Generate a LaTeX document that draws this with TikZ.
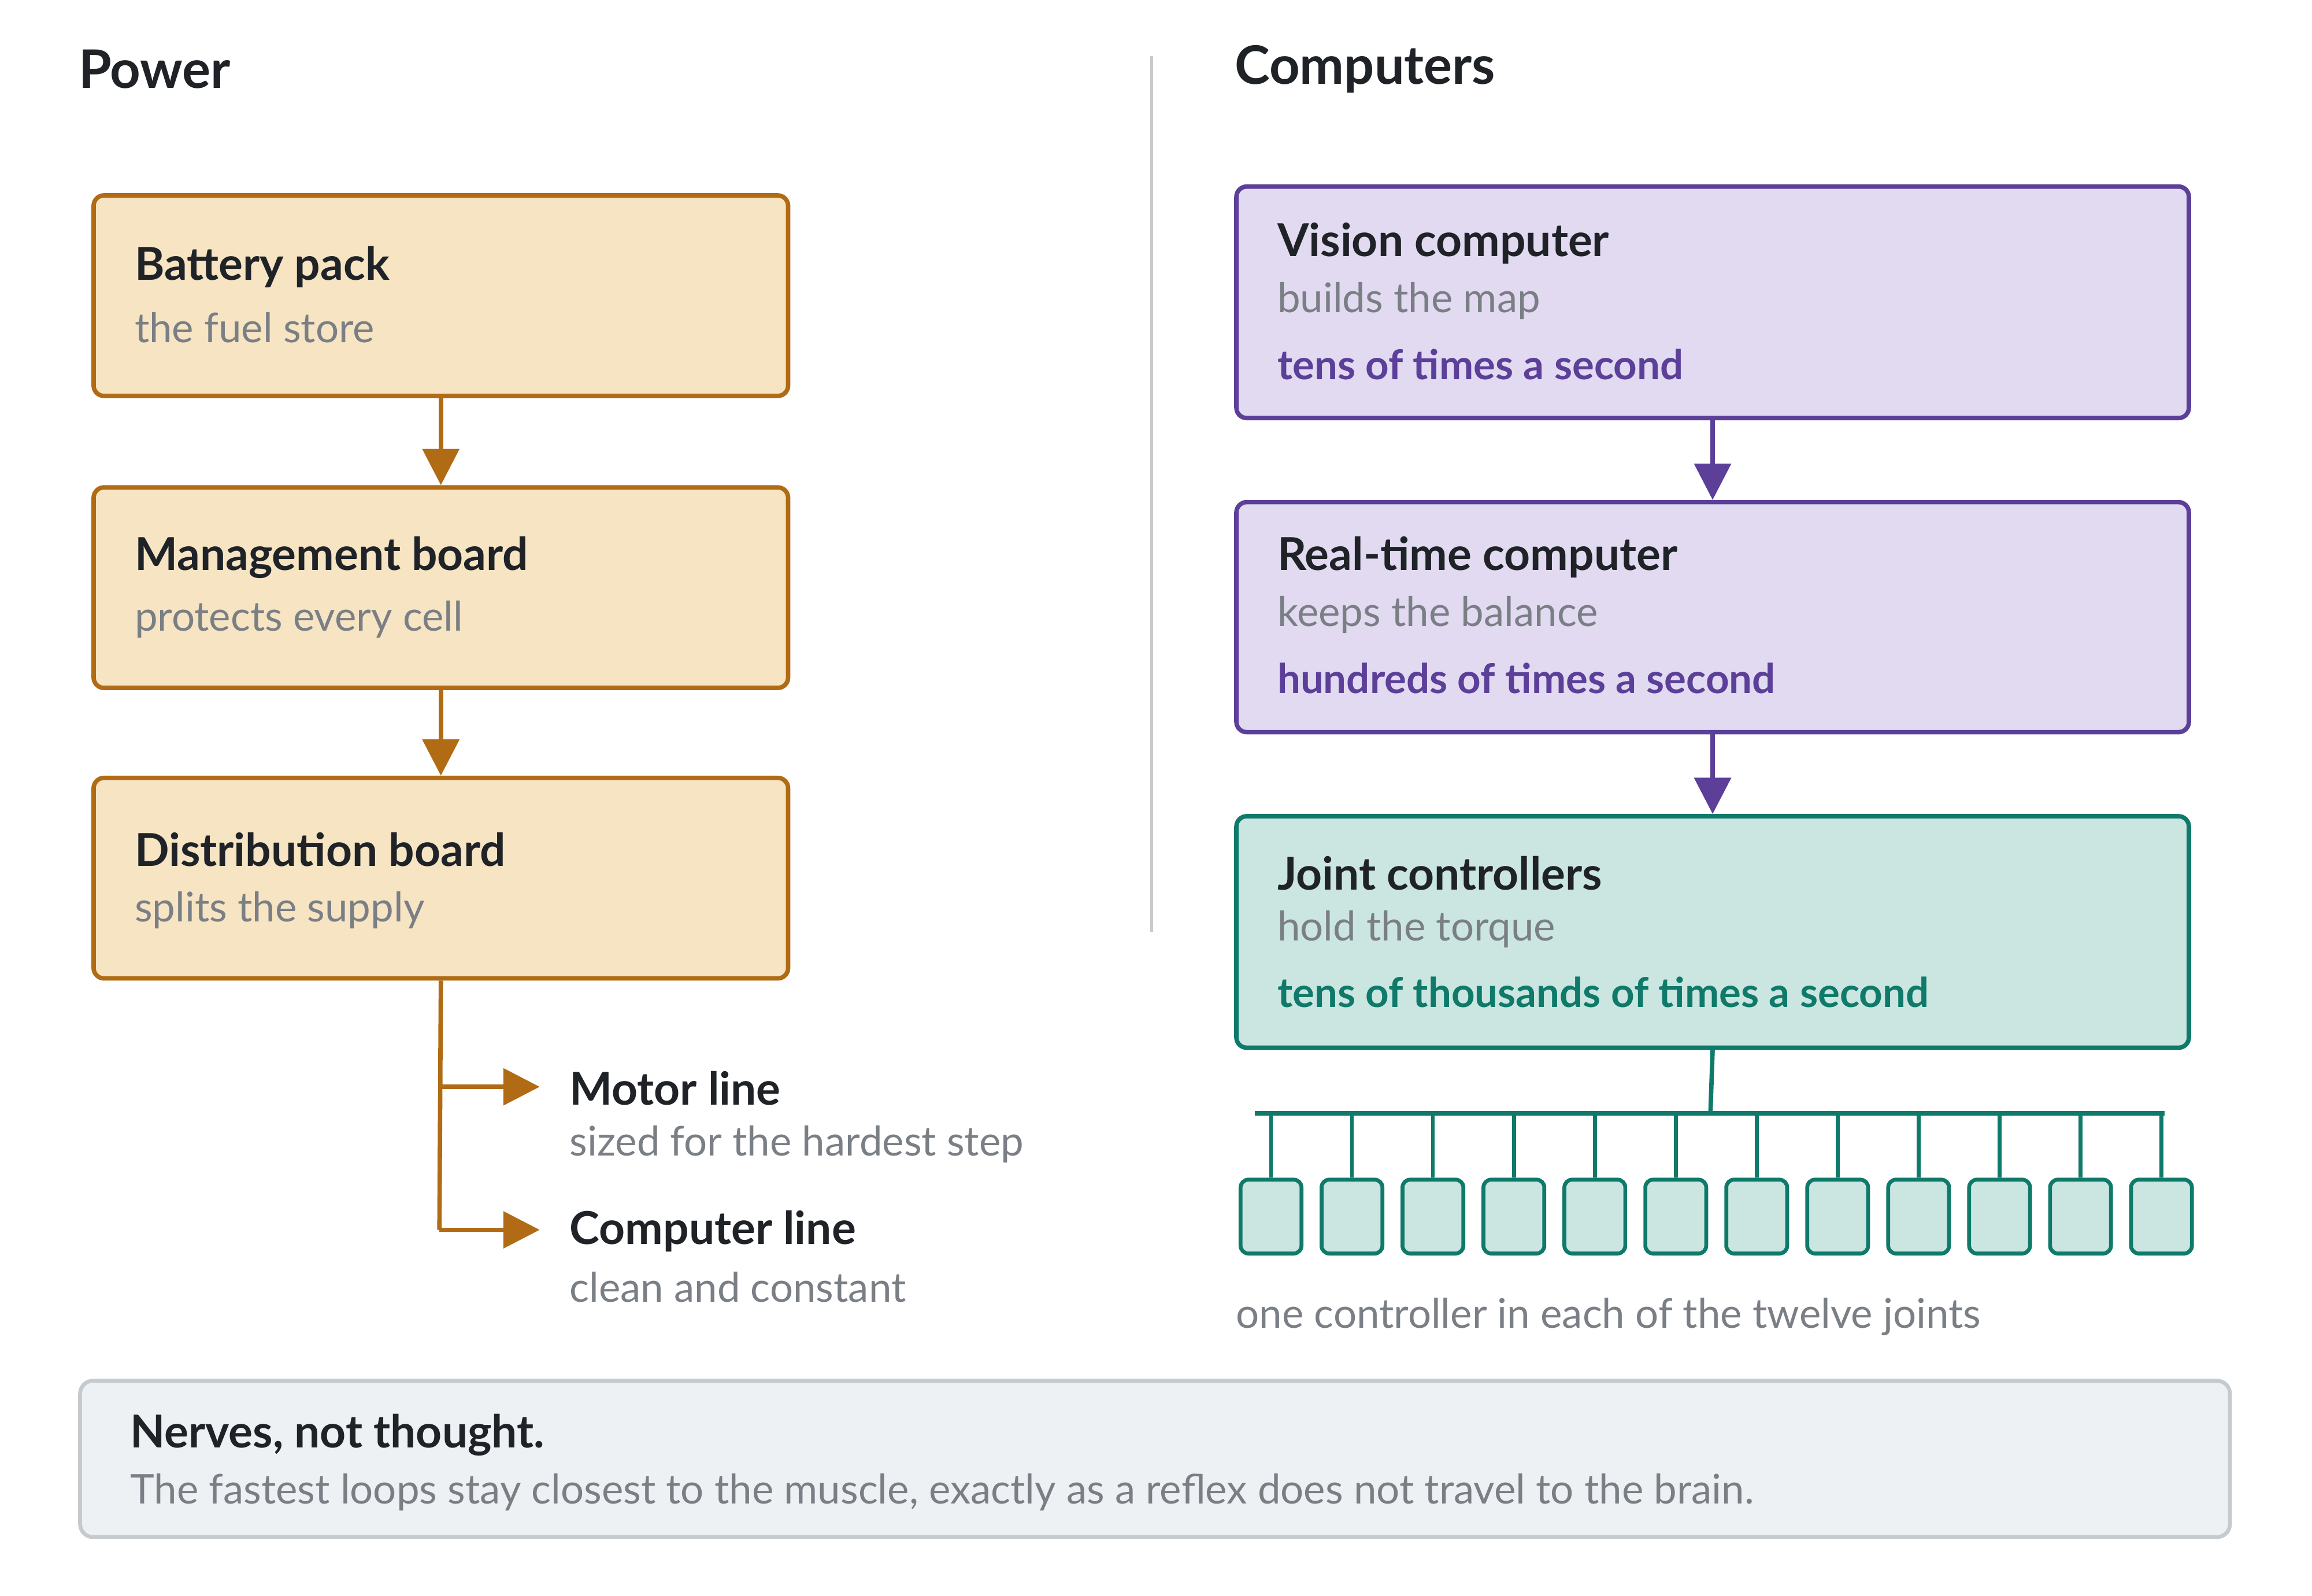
\documentclass[tikz,border=0pt]{standalone}
\usepackage{fontspec}
\setmainfont{Lato}
\usetikzlibrary{arrows.meta,positioning}
\definecolor{pwrline}{HTML}{B06B14}
\definecolor{pwrfill}{HTML}{F6E4C2}
\definecolor{cpuline}{HTML}{5B3F99}
\definecolor{cpufill}{HTML}{E1DAF0}
\definecolor{jntline}{HTML}{0F7A6A}
\definecolor{jntfill}{HTML}{CBE6E1}
\definecolor{ink}{HTML}{1F2328}
\definecolor{mute}{HTML}{7A7F85}
\definecolor{rule}{HTML}{C5CACF}
\definecolor{notefill}{HTML}{EEF1F4}
\tikzset{
  box/.style={draw, line width=1.7pt, rounded corners=4pt, anchor=north west, inner sep=0pt},
  pwr/.style={box, draw=pwrline, fill=pwrfill},
  cpu/.style={box, draw=cpuline, fill=cpufill},
  jnt/.style={box, draw=jntline, fill=jntfill},
  head/.style={anchor=west, text=ink, font=\fontsize{17.5}{20}\selectfont\bfseries, inner sep=0pt},
  sub/.style={anchor=west, text=mute, font=\fontsize{15.8}{18}\selectfont, inner sep=0pt},
  rate/.style={anchor=west, font=\fontsize{15.8}{18}\selectfont\bfseries, inner sep=0pt},
  title/.style={anchor=west, text=ink, font=\fontsize{20.5}{24}\selectfont\bfseries, inner sep=0pt},
  flow/.style={line width=1.7pt, -{Triangle[length=14pt,width=14pt]}},
  cell/.style={draw=jntline, fill=jntfill, line width=1.5pt, rounded corners=3pt, minimum width=23.5pt, minimum height=28.5pt, inner sep=0pt}
}
\begin{document}
\begin{tikzpicture}[x=0.02cm,y=-0.02cm]
\useasboundingbox (0,0) rectangle (1568,1082);
% titles and divider
\node[title] (tp) at (53,47) {Power};
\node[title] (tc) at (837,47) {Computers};
\draw[rule, line width=1.2pt] (781,38) -- (781,632);

% power chain
\node[pwr, minimum width=471*0.02cm, minimum height=136*0.02cm] (bat) at (62,131) {};
\node[pwr, minimum width=471*0.02cm, minimum height=136*0.02cm] (mgt) at (62,329) {};
\node[pwr, minimum width=471*0.02cm, minimum height=136*0.02cm] (dst) at (62,526) {};
\node[head] at (91,181) {Battery pack};
\node[sub] at (91,222) {the fuel store};
\node[head] at (91,378) {Management board};
\node[sub] at (91,420) {protects every cell};
\node[head] at (91,576) {Distribution board};
\node[sub] at (91,617) {splits the supply};
\draw[flow, pwrline] (bat.south) -- (mgt.north);
\draw[flow, pwrline] (mgt.south) -- (dst.north);

% supply lines
\coordinate (m) at (298,737);
\coordinate (c) at (298,834);
\coordinate (mt) at (366,737);
\coordinate (ct) at (366,834);
\draw[pwrline, line width=1.7pt] (dst.south) -- (c);
\draw[flow, pwrline] (m) -- (mt);
\draw[flow, pwrline] (c) -- (ct);
\node[head] (ml) at (386,738) {Motor line};
\node[sub] at (386,776) {sized for the hardest step};
\node[head] (cl) at (386,835) {Computer line};
\node[sub] at (386,873) {clean and constant};

% computers
\node[cpu, minimum width=646*0.02cm, minimum height=157*0.02cm] (vis) at (837,125) {};
\node[cpu, minimum width=646*0.02cm, minimum height=156*0.02cm] (rt) at (837,339) {};
\node[jnt, minimum width=646*0.02cm, minimum height=157*0.02cm] (jc) at (837,552) {};
\node[head] at (866,165) {Vision computer};
\node[sub] at (866,204) {builds the map};
\node[rate, text=cpuline] at (866,247) {tens of times a second};
\node[head] at (866,378) {Real-time computer};
\node[sub] at (866,417) {keeps the balance};
\node[rate, text=cpuline] at (866,460) {hundreds of times a second};
\node[head] at (866,592) {Joint controllers};
\node[sub] at (866,630) {hold the torque};
\node[rate, text=jntline] at (866,673) {tens of thousands of times a second};
\draw[flow, cpuline] (vis.south) -- (rt.north);
\draw[flow, cpuline] (rt.south) -- (jc.north);

% joint bus
\coordinate (bus) at (1160,755);
\coordinate (busl) at (851,755);
\coordinate (busr) at (1468,755);
\draw[jntline, line width=1.7pt] (jc.south) -- (bus);
\draw[jntline, line width=1.7pt] (busl) -- (busr);
\foreach \i in {0,...,11} {
  \node[cell] (j\i) at (862+\i*54.9,825) {};
  \coordinate (t\i) at (862+\i*54.9,755);
  \draw[jntline, line width=1.5pt] (t\i) -- (j\i.north);
}
\node[sub] at (838,893) {one controller in each of the twelve joints};

% note
\node[draw=rule, fill=notefill, line width=1.5pt, rounded corners=5pt, anchor=north west, minimum width=1458*0.02cm, minimum height=106*0.02cm] (note) at (53,935) {};
\node[head] at (88,973) {Nerves, not thought.};
\node[sub] at (88,1012) {The fastest loops stay closest to the muscle, exactly as a reflex does not travel to the brain.};
\end{tikzpicture}
\end{document}
